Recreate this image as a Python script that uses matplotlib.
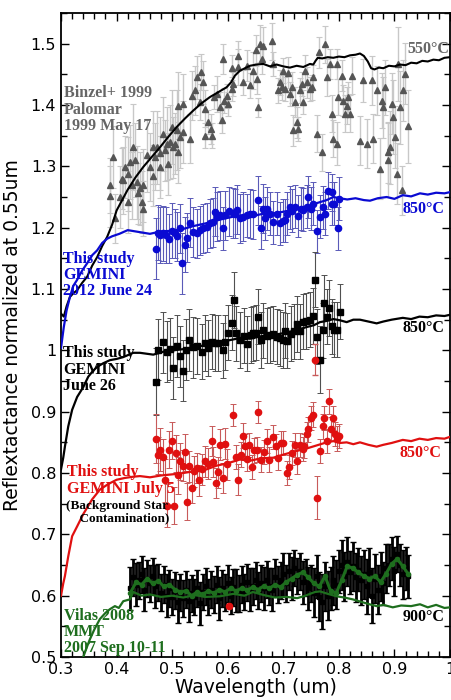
import matplotlib
matplotlib.use("Agg")
import matplotlib.pyplot as plt
import numpy as np
from matplotlib.ticker import MultipleLocator, FormatStrFormatter

# ---- Binzel+ 1999 (Palomar) ----
binzel_x = [0.388,0.388,0.394,0.397,0.406,0.409,0.412,0.415,0.421,0.421,
            0.424,0.427,0.430,0.433,0.436,0.439,0.442,0.445,0.448,0.448,
            0.454,0.460,0.465,0.466,0.469,0.472,0.478,0.478,0.484,0.487,
            0.490,0.493,0.496,0.499,0.502,0.505,0.508,0.511,0.511,0.514,
            0.519,0.519,0.532,0.535,0.541,0.544,0.550,0.551,0.556,0.559,
            0.559,0.565,0.569,0.571,0.575,0.581,0.586,0.589,0.592,0.593,
            0.598,0.601,0.607,0.607,0.610,0.619,0.619,0.628,0.634,0.640,
            0.646,0.651,0.652,0.655,0.658,0.661,0.664,0.680,0.682,0.691,
            0.694,0.697,0.700,0.703,0.709,0.712,0.715,0.718,0.721,0.724,
            0.727,0.730,0.733,0.736,0.739,0.742,0.748,0.751,0.754,0.761,
            0.765,0.769,0.775,0.778,0.784,0.787,0.790,0.796,0.796,0.799,
            0.805,0.808,0.811,0.814,0.817,0.820,0.823,0.838,0.844,0.850,
            0.859,0.862,0.868,0.874,0.877,0.880,0.883,0.889,0.889,0.892,
            0.895,0.898,0.901,0.904,0.907,0.910,0.913,0.916,0.919,0.925]
binzel_y = [1.269,1.251,1.315,1.215,1.250,1.280,1.277,1.299,1.288,1.242,
            1.307,1.269,1.331,1.310,1.274,1.256,1.264,1.242,1.231,1.269,
            1.318,1.299,1.285,1.331,1.316,1.331,1.299,1.321,1.353,1.326,
            1.337,1.304,1.340,1.364,1.331,1.337,1.359,1.399,1.323,1.348,
            1.401,1.356,1.345,1.415,1.424,1.445,1.405,1.454,1.437,1.394,
            1.350,1.372,1.361,1.350,1.413,1.418,1.396,1.375,1.475,1.407,
            1.415,1.402,1.461,1.426,1.434,1.480,1.462,1.437,1.464,1.432,
            1.456,1.489,1.443,1.396,1.500,1.475,1.497,1.504,1.467,1.424,
            1.437,1.429,1.456,1.426,1.453,1.418,1.429,1.359,1.405,1.372,
            1.361,1.424,1.434,1.405,1.456,1.437,1.426,1.429,1.445,1.353,
            1.486,1.323,1.499,1.445,1.467,1.386,1.345,1.467,1.337,1.413,
            1.448,1.407,1.386,1.399,1.413,1.386,1.448,1.342,1.440,1.337,
            1.440,1.345,1.424,1.296,1.407,1.396,1.429,1.310,1.323,1.331,
            1.402,1.380,1.348,1.288,1.467,1.396,1.261,1.424,1.451,1.365]
binzel_err = [0.045,0.05,0.05,0.04,0.05,0.05,0.055,0.05,0.06,0.05,
              0.06,0.055,0.07,0.06,0.06,0.05,0.06,0.05,0.045,0.06,
              0.06,0.055,0.05,0.06,0.055,0.06,0.05,0.06,0.06,0.05,
              0.06,0.05,0.06,0.06,0.05,0.05,0.065,0.055,0.05,0.05,
              0.05,0.05,0.04,0.04,0.04,0.035,0.03,0.03,0.035,0.03,
              0.02,0.02,0.025,0.02,0.02,0.03,0.025,0.02,0.025,0.02,
              0.02,0.02,0.02,0.02,0.02,0.025,0.03,0.02,0.025,0.02,
              0.03,0.025,0.025,0.015,0.03,0.025,0.03,0.03,0.02,0.02,
              0.02,0.02,0.02,0.02,0.025,0.02,0.025,0.025,0.025,0.025,
              0.02,0.02,0.02,0.02,0.025,0.025,0.02,0.02,0.02,0.03,
              0.025,0.03,0.03,0.03,0.025,0.03,0.03,0.025,0.035,0.03,
              0.025,0.025,0.03,0.03,0.025,0.03,0.03,0.04,0.035,0.04,
              0.04,0.04,0.04,0.05,0.045,0.05,0.045,0.06,0.05,0.06,
              0.05,0.06,0.05,0.05,0.06,0.06,0.04,0.05,0.05,0.06]

# ---- GEMINI 2012 June 24 (blue) ----
blue_x = [0.471,0.475,0.479,0.484,0.489,0.495,0.499,0.505,0.509,0.514,
          0.518,0.523,0.526,0.532,0.538,0.544,0.550,0.556,0.562,0.568,
          0.573,0.577,0.581,0.586,0.591,0.595,0.603,0.609,0.613,0.617,
          0.622,0.628,0.634,0.640,0.646,0.655,0.659,0.663,0.667,0.670,
          0.676,0.682,0.688,0.694,0.699,0.703,0.707,0.712,0.716,0.721,
          0.727,0.731,0.736,0.742,0.745,0.749,0.754,0.761,0.766,0.771,
          0.775,0.781,0.787,0.787,0.792,0.798,0.800]
blue_y = [1.166,1.192,1.188,1.191,1.188,1.182,1.195,1.191,1.186,1.199,
          1.142,1.172,1.184,1.208,1.193,1.191,1.196,1.199,1.201,1.207,
          1.209,1.226,1.218,1.220,1.199,1.220,1.227,1.224,1.223,1.229,
          1.215,1.218,1.220,1.223,1.222,1.245,1.200,1.231,1.215,1.231,
          1.223,1.209,1.223,1.207,1.211,1.212,1.223,1.233,1.228,1.234,
          1.219,1.231,1.229,1.234,1.250,1.231,1.239,1.194,1.218,1.233,
          1.223,1.260,1.258,1.239,1.239,1.199,1.247]
blue_err = [0.05,0.045,0.045,0.045,0.045,0.04,0.045,0.04,0.04,0.04,
            0.05,0.045,0.04,0.04,0.04,0.04,0.04,0.04,0.04,0.04,
            0.04,0.04,0.04,0.04,0.035,0.04,0.04,0.04,0.04,0.04,
            0.04,0.04,0.035,0.04,0.04,0.04,0.035,0.04,0.035,0.035,
            0.035,0.035,0.035,0.035,0.035,0.035,0.035,0.035,0.035,0.035,
            0.035,0.035,0.035,0.035,0.035,0.035,0.035,0.035,0.035,0.035,
            0.035,0.03,0.03,0.035,0.035,0.035,0.035]

# ---- GEMINI June 26 (black squares) ----
black_x = [0.471,0.475,0.483,0.490,0.496,0.502,0.508,0.514,0.519,0.525,
           0.531,0.537,0.544,0.553,0.559,0.565,0.571,0.577,0.583,0.591,
           0.595,0.601,0.607,0.611,0.615,0.622,0.629,0.635,0.641,0.646,
           0.651,0.655,0.659,0.664,0.670,0.676,0.682,0.688,0.694,0.700,
           0.703,0.707,0.713,0.719,0.725,0.730,0.735,0.741,0.748,0.753,
           0.757,0.761,0.766,0.771,0.774,0.778,0.783,0.787,0.791,0.796,
           0.802]
black_y = [0.949,1.001,1.013,0.998,1.002,0.971,1.007,0.990,0.967,1.001,
           1.017,1.005,1.007,0.998,1.012,1.004,1.014,1.012,1.012,1.000,
           1.013,1.029,1.045,1.082,1.028,1.017,1.024,1.011,1.025,1.028,
           1.029,1.055,1.017,1.033,1.024,1.025,1.027,1.022,1.020,1.017,
           1.032,1.016,1.027,1.031,1.043,1.031,1.047,1.048,1.050,1.056,
           1.115,1.022,0.985,1.033,1.078,1.055,1.069,1.039,1.034,1.034,
           1.063]
black_err = [0.055,0.05,0.05,0.05,0.05,0.05,0.05,0.05,0.05,0.05,
             0.05,0.05,0.045,0.045,0.045,0.045,0.045,0.045,0.045,0.045,
             0.045,0.045,0.045,0.045,0.045,0.045,0.045,0.045,0.045,0.045,
             0.045,0.045,0.045,0.045,0.045,0.045,0.045,0.045,0.045,0.045,
             0.045,0.045,0.045,0.045,0.045,0.045,0.045,0.045,0.045,0.045,
             0.045,0.045,0.055,0.045,0.045,0.045,0.045,0.045,0.045,0.045,
             0.045]

# ---- GEMINI July 5 (red) ----
red_x = [0.471,0.475,0.479,0.483,0.487,0.491,0.495,0.499,0.503,0.507,
         0.511,0.515,0.519,0.523,0.527,0.531,0.535,0.539,0.544,0.548,
         0.553,0.559,0.565,0.571,0.574,0.579,0.583,0.586,0.591,0.595,
         0.599,0.610,0.615,0.619,0.623,0.627,0.631,0.634,0.639,0.643,
         0.647,0.652,0.655,0.659,0.665,0.670,0.675,0.682,0.687,0.691,
         0.695,0.700,0.706,0.710,0.715,0.721,0.725,0.730,0.735,0.737,
         0.742,0.745,0.749,0.754,0.761,0.766,0.771,0.774,0.778,0.783,
         0.785,0.790,0.793,0.797,0.800]
red_y = [0.856,0.829,0.838,0.826,0.788,0.747,0.838,0.853,0.747,0.832,
         0.796,0.819,0.812,0.834,0.753,0.811,0.776,0.803,0.808,0.788,
         0.806,0.819,0.815,0.852,0.818,0.784,0.801,0.846,0.792,0.848,
         0.814,0.894,0.826,0.789,0.830,0.861,0.844,0.823,0.846,0.810,
         0.837,0.838,0.900,0.822,0.834,0.852,0.822,0.859,0.844,0.825,
         0.849,0.849,0.800,0.810,0.833,0.846,0.819,0.846,0.839,0.844,
         0.863,0.871,0.890,0.895,0.760,0.836,0.876,0.890,0.852,0.917,
         0.872,0.890,0.864,0.856,0.860]
red_err = [0.04,0.03,0.035,0.03,0.035,0.035,0.03,0.03,0.03,0.03,
           0.03,0.03,0.025,0.03,0.03,0.025,0.025,0.025,0.025,0.025,
           0.025,0.025,0.025,0.025,0.025,0.025,0.025,0.025,0.025,0.025,
           0.025,0.018,0.02,0.025,0.02,0.02,0.02,0.02,0.02,0.02,
           0.02,0.02,0.018,0.02,0.02,0.02,0.02,0.02,0.02,0.02,
           0.02,0.02,0.02,0.02,0.02,0.02,0.02,0.02,0.02,0.02,
           0.02,0.02,0.02,0.02,0.035,0.02,0.02,0.02,0.02,0.02,
           0.02,0.02,0.02,0.02,0.02]
red_extra_x = [0.757, 0.603]
red_extra_y = [0.985, 0.583]
red_extra_err = [0.025, 0.0]

# ---- Vilas 2008 (MMT 2007 Sep 10-11) ----
vilas_x = np.linspace(0.425, 0.925, 101)
vilas_y = [0.612,0.630,0.618,0.625,0.635,0.610,0.628,0.620,0.632,0.615,
           0.622,0.605,0.618,0.600,0.612,0.598,0.608,0.590,0.605,0.596,
           0.610,0.592,0.604,0.598,0.612,0.588,0.606,0.615,0.598,0.610,
           0.602,0.618,0.596,0.612,0.605,0.620,0.600,0.614,0.608,0.604,
           0.618,0.606,0.622,0.610,0.615,0.625,0.608,0.620,0.612,0.626,
           0.615,0.610,0.630,0.618,0.625,0.635,0.620,0.640,0.628,0.645,
           0.632,0.640,0.622,0.630,0.612,0.620,0.605,0.632,0.598,0.590,
           0.615,0.600,0.612,0.625,0.618,0.640,0.650,0.632,0.655,0.638,
           0.648,0.630,0.642,0.625,0.635,0.615,0.638,0.600,0.628,0.610,
           0.632,0.620,0.645,0.650,0.660,0.640,0.668,0.650,0.635,0.645,
           0.632]
vilas_err = [0.035,0.03,0.035,0.03,0.03,0.035,0.03,0.03,0.03,0.035,
             0.03,0.03,0.03,0.035,0.03,0.03,0.03,0.035,0.03,0.03,
             0.03,0.035,0.03,0.03,0.03,0.035,0.03,0.03,0.03,0.03,
             0.03,0.03,0.035,0.03,0.03,0.03,0.03,0.03,0.035,0.03,
             0.03,0.03,0.03,0.035,0.03,0.03,0.03,0.03,0.035,0.03,
             0.03,0.035,0.03,0.03,0.03,0.035,0.03,0.03,0.035,0.03,
             0.03,0.03,0.035,0.03,0.035,0.03,0.04,0.035,0.04,0.045,
             0.04,0.04,0.035,0.04,0.04,0.035,0.04,0.04,0.04,0.035,
             0.04,0.04,0.035,0.04,0.04,0.045,0.04,0.045,0.04,0.04,
             0.04,0.035,0.04,0.035,0.035,0.04,0.03,0.035,0.04,0.035,
             0.035]
vilas_smooth_x = np.linspace(0.425, 0.925, 51)
vilas_smooth_y = [0.605,0.622,0.618,0.628,0.620,0.624,0.615,0.618,0.610,0.606,
                  0.608,0.600,0.606,0.602,0.608,0.604,0.610,0.606,0.612,0.608,
                  0.612,0.609,0.614,0.610,0.616,0.612,0.618,0.614,0.622,0.628,
                  0.634,0.638,0.630,0.620,0.615,0.632,0.608,0.604,0.625,0.648,
                  0.645,0.638,0.632,0.628,0.632,0.622,0.636,0.652,0.660,0.648,
                  0.635]

# ---- model curves ----
m550_x = [0.300,0.305,0.310,0.316,0.322,0.329,0.338,0.347,0.356,0.365,
          0.374,0.383,0.392,0.400,0.410,0.420,0.434,0.448,0.463,0.478,
          0.493,0.508,0.523,0.538,0.553,0.568,0.583,0.598,0.606,0.613,
          0.622,0.631,0.640,0.652,0.664,0.676,0.688,0.700,0.712,0.724,
          0.736,0.748,0.754,0.758,0.762,0.770,0.780,0.790,0.800,0.810,
          0.820,0.830,0.838,0.845,0.852,0.858,0.864,0.872,0.880,0.890,
          0.900,0.910,0.920,0.930,0.940,0.950,0.960,0.970,0.980,0.990,
          1.000]
m550_y = [1.060,1.055,1.072,1.087,1.093,1.098,1.110,1.120,1.138,1.152,
          1.170,1.185,1.205,1.228,1.245,1.262,1.282,1.299,1.315,1.331,
          1.348,1.364,1.378,1.391,1.403,1.413,1.421,1.429,1.437,1.448,
          1.456,1.460,1.464,1.466,1.467,1.463,1.466,1.463,1.461,1.464,
          1.462,1.467,1.466,1.472,1.477,1.476,1.478,1.477,1.479,1.478,
          1.481,1.482,1.484,1.480,1.471,1.460,1.458,1.461,1.460,1.464,
          1.463,1.466,1.465,1.469,1.468,1.472,1.471,1.474,1.473,1.477,
          1.478]
m850b_x = [0.300,0.305,0.310,0.316,0.322,0.329,0.338,0.347,0.356,0.365,
           0.374,0.383,0.392,0.405,0.420,0.440,0.460,0.480,0.500,0.520,
           0.540,0.560,0.580,0.600,0.620,0.640,0.660,0.680,0.700,0.720,
           0.740,0.760,0.778,0.790,0.802,0.815,0.830,0.845,0.856,0.870,
           0.886,0.900,0.915,0.930,0.946,0.960,0.975,0.990,1.000]
m850b_y = [1.004,1.038,1.065,1.087,1.105,1.115,1.130,1.142,1.155,1.163,
           1.175,1.182,1.186,1.190,1.196,1.193,1.190,1.194,1.195,1.198,
           1.203,1.207,1.212,1.216,1.220,1.218,1.222,1.223,1.226,1.230,
           1.234,1.240,1.245,1.250,1.248,1.246,1.248,1.245,1.244,1.248,
           1.250,1.247,1.253,1.251,1.256,1.254,1.257,1.256,1.258]
m850k_x = [0.300,0.304,0.307,0.313,0.320,0.329,0.340,0.349,0.357,0.365,
           0.376,0.388,0.400,0.412,0.430,0.442,0.466,0.485,0.502,0.520,
           0.540,0.562,0.580,0.600,0.622,0.640,0.660,0.682,0.700,0.720,
           0.742,0.755,0.766,0.778,0.790,0.802,0.814,0.826,0.838,0.853,
           0.868,0.880,0.895,0.915,0.930,0.945,0.960,0.975,0.990,1.000]
m850k_y = [0.806,0.825,0.843,0.876,0.903,0.924,0.940,0.957,0.966,0.973,
           0.979,0.984,0.986,0.989,0.996,0.996,0.993,0.998,1.000,1.002,
           1.005,1.009,1.012,1.016,1.020,1.019,1.023,1.025,1.028,1.032,
           1.038,1.041,1.046,1.048,1.051,1.049,1.046,1.050,1.050,1.047,
           1.044,1.047,1.050,1.053,1.051,1.055,1.054,1.057,1.056,1.058]
m850r_x = [0.300,0.304,0.307,0.313,0.320,0.329,0.340,0.348,0.356,0.363,
           0.370,0.385,0.400,0.415,0.430,0.442,0.460,0.480,0.502,0.520,
           0.540,0.562,0.580,0.600,0.622,0.640,0.660,0.682,0.700,0.720,
           0.742,0.760,0.778,0.790,0.802,0.814,0.826,0.838,0.853,0.868,
           0.880,0.895,0.915,0.930,0.945,0.960,0.975,0.990,1.000]
m850r_y = [0.600,0.620,0.632,0.664,0.697,0.713,0.733,0.745,0.757,0.765,
           0.773,0.782,0.789,0.792,0.794,0.795,0.793,0.796,0.798,0.800,
           0.803,0.806,0.812,0.816,0.822,0.820,0.824,0.825,0.830,0.835,
           0.840,0.845,0.850,0.852,0.849,0.850,0.847,0.850,0.846,0.843,
           0.846,0.849,0.854,0.852,0.856,0.854,0.857,0.856,0.859]
m900_x = [0.340,0.346,0.352,0.360,0.370,0.380,0.388,0.397,0.404,0.412,
          0.424,0.430,0.445,0.460,0.480,0.500,0.520,0.540,0.560,0.586,
          0.610,0.630,0.645,0.665,0.685,0.706,0.725,0.740,0.748,0.757,
          0.766,0.780,0.796,0.810,0.825,0.840,0.855,0.868,0.880,0.897,
          0.912,0.930,0.946,0.960,0.975,0.990,1.000]
m900_y = [0.500,0.515,0.529,0.545,0.562,0.572,0.578,0.583,0.580,0.591,
          0.594,0.606,0.600,0.602,0.598,0.600,0.597,0.601,0.598,0.599,
          0.603,0.600,0.606,0.601,0.597,0.598,0.596,0.600,0.603,0.606,
          0.607,0.603,0.599,0.597,0.594,0.590,0.586,0.583,0.585,0.581,
          0.584,0.583,0.586,0.581,0.585,0.580,0.581]

BLUE = '#0a0ad2'
RED = '#e01010'
GREEN = '#1e6e1e'
GREY = '#555555'

fig = plt.figure(figsize=(4.52, 7.0), dpi=100)
ax = fig.add_axes([0.135, 0.0614, 0.8606, 0.92])

# Binzel
ax.errorbar(binzel_x, binzel_y, yerr=binzel_err, fmt='none', ecolor='#c8c8c8',
            elinewidth=1.0, capsize=2.5, capthick=0.8, zorder=1)
ax.plot(binzel_x, binzel_y, '^', color=GREY, ms=5, mec=GREY, zorder=2)
ax.plot(m550_x, m550_y, '-', color='black', lw=1.5, zorder=3)

# blue
ax.errorbar(blue_x, blue_y, yerr=blue_err, fmt='none', ecolor='#5a5ab8',
            elinewidth=0.8, capsize=2.5, capthick=0.7, zorder=1)
ax.plot(blue_x, blue_y, 'o', color=BLUE, ms=4.5, zorder=2)
ax.plot(m850b_x, m850b_y, '-', color=BLUE, lw=1.6, zorder=3)

# black squares
ax.errorbar(black_x, black_y, yerr=black_err, fmt='none', ecolor='#505050',
            elinewidth=0.8, capsize=2.5, capthick=0.7, zorder=1)
ax.plot(black_x, black_y, 's', color='black', ms=4, zorder=2)
ax.plot(m850k_x, m850k_y, '-', color='black', lw=1.6, zorder=3)

# red
ax.errorbar(red_x, red_y, yerr=red_err, fmt='none', ecolor='#c85a5a',
            elinewidth=0.8, capsize=2.5, capthick=0.7, zorder=1)
ax.plot(red_x, red_y, 'o', color=RED, ms=4.5, zorder=2)
ax.errorbar(red_extra_x, red_extra_y, yerr=red_extra_err, fmt='o', color=RED,
            ms=4.5, ecolor='#c85a5a', elinewidth=0.8, capsize=2.5, zorder=4)
ax.plot(m850r_x, m850r_y, '-', color=RED, lw=1.6, zorder=3)

# Vilas
ax.errorbar(vilas_x, vilas_y, yerr=vilas_err, fmt='none', ecolor='black',
            elinewidth=2.0, capsize=2, capthick=1.0, zorder=2)
ax.plot(vilas_x, vilas_y, 's', color='black', ms=3, zorder=2)
ax.plot(vilas_smooth_x, vilas_smooth_y, '-o', color=GREEN, lw=2.2, ms=3, zorder=3)
ax.plot(m900_x, m900_y, '-', color=GREEN, lw=1.6, zorder=3)

# annotations
tkw = dict(family='Liberation Serif', weight='bold', va='top', ha='left',
           linespacing=1.02, zorder=5)
ax.text(0.305, 1.432, 'Binzel+ 1999\nPalomar\n1999 May 17', color='#666666', fontsize=11.5, **tkw)
ax.text(0.924, 1.505, '550°C', color='#666666', fontsize=11.5, **tkw)
ax.text(0.304, 1.162, 'This study\nGEMINI\n2012 June 24', color=BLUE, fontsize=11.5, **tkw)
ax.text(0.914, 1.244, '850°C', color=BLUE, fontsize=11.5, **tkw)
ax.text(0.304, 1.008, 'This study\nGEMINI\nJune 26', color='black', fontsize=11.5, **tkw)
ax.text(0.914, 1.049, '850°C', color='black', fontsize=11.5, **tkw)
ax.text(0.311, 0.814, 'This study\nGEMINI July 5', color=RED, fontsize=11.5, **tkw)
ax.text(0.309, 0.756, '(Background Star\n    Contamination)', color='black', fontsize=9.5, **tkw)
ax.text(0.909, 0.846, '850°C', color=RED, fontsize=11.5, **tkw)
ax.text(0.305, 0.580, 'Vilas 2008\nMMT\n2007 Sep 10-11', color=GREEN, fontsize=11.5, **tkw)
ax.text(0.914, 0.578, '900°C', color='black', fontsize=11.5, **tkw)

ax.set_xlim(0.3, 1.0)
ax.set_ylim(0.5, 1.55)
ax.xaxis.set_major_locator(MultipleLocator(0.1))
ax.xaxis.set_minor_locator(MultipleLocator(0.02))
ax.yaxis.set_major_locator(MultipleLocator(0.1))
ax.yaxis.set_minor_locator(MultipleLocator(0.05))
ax.xaxis.set_major_formatter(FormatStrFormatter('%g'))
ax.yaxis.set_major_formatter(FormatStrFormatter('%g'))
ax.tick_params(which='both', direction='in', top=True, right=True,
               labelsize=11.5, width=1.0)
ax.tick_params(which='major', length=6)
ax.tick_params(which='minor', length=4)
for s in ax.spines.values():
    s.set_linewidth(1.3)

ax.set_xlabel('Wavelength (um)', fontsize=13.5, labelpad=1)
ax.set_ylabel('Reflextactance normalized at 0.55um', fontsize=13.5)
ax.yaxis.set_label_coords(-0.1, 0.5)

fig.savefig('out.png', dpi=100)
